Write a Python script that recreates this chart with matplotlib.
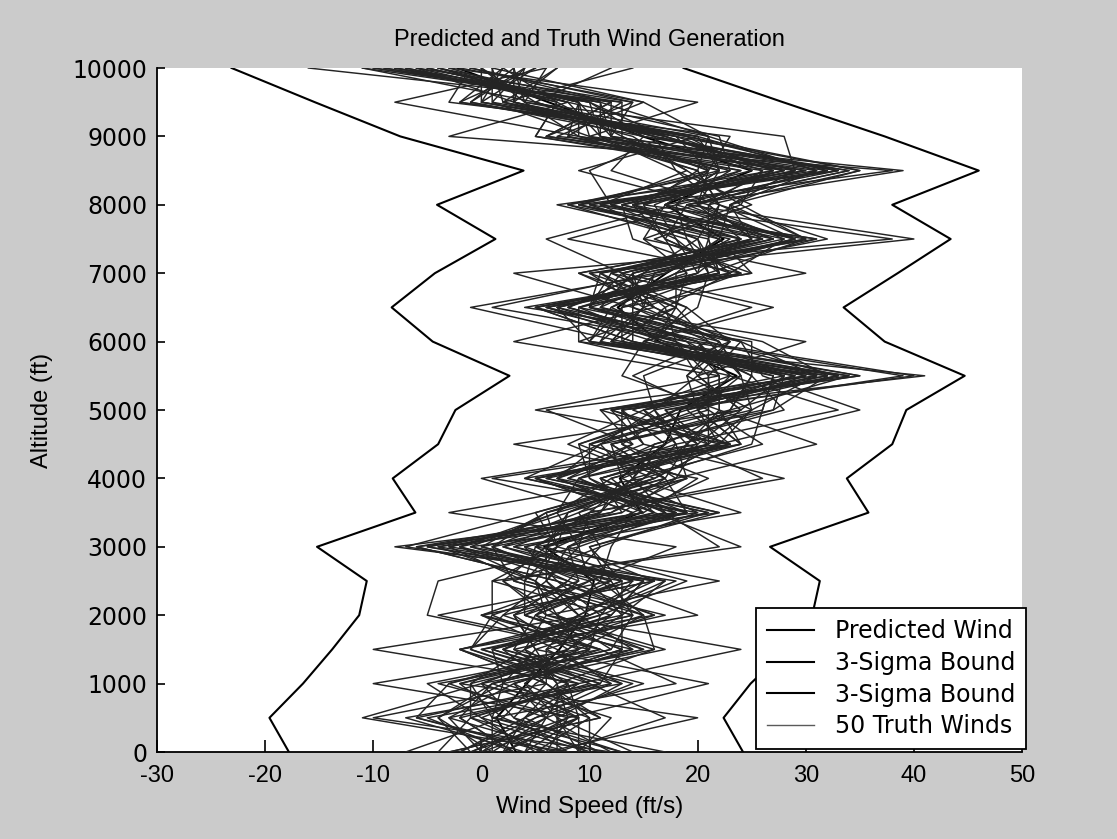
#!/usr/bin/env python3
"""Predicted wind profile, 3-sigma envelope and 50 sampled truth winds."""

import matplotlib
matplotlib.use("Agg")
import matplotlib.pyplot as plt
from matplotlib.lines import Line2D

# altitude grid (ft), one sample every 500 ft
altitude = list(range(0, 10001, 500))

predicted_wind = [3.2, 1.4, 4.2, 7.2, 9.6, 10.4, 5.8, 14.8, 12.8, 17.0, 18.4,
                  23.6, 16.4, 12.6, 17.1, 22.4, 17.0, 25.0, 14.9, 6.2, -2.2]
lower_bound = [-17.8, -19.6, -16.5, -13.8, -11.3, -10.6, -15.2, -6.1, -8.2, -4.0, -2.4,
               2.6, -4.5, -8.3, -4.3, 1.3, -4.1, 3.9, -7.5, -15.4, -23.1]
upper_bound = [24.2, 22.4, 24.9, 28.2, 30.6, 31.3, 26.7, 35.8, 33.8, 38.0, 39.3,
               44.7, 37.3, 33.5, 38.5, 43.4, 38.0, 46.0, 37.3, 27.9, 18.7]

truth_winds = [
    [6, -1, 10, 4, 9, 15, 2, 16, 7, 17, 23, 25, 19, 6, 20, 24, 14, 30, 11, 8, -6],
    [-1, 6, 3, 13, 4, 10, 9, 10, 14, 11, 20, 30, 12, 15, 16, 29, 18, 21, 18, 3, 3],
    [12, -10, 6, -2, 11, 7, -6, 19, 11, 21, 12, 35, 17, 9, 24, 8, 20, 27, 6, 12, -1],
    [4, 9, -10, 9, 15, 4, 7, 5, 17, 19, 16, 20, 23, 16, 13, 26, 9, 33, 16, 5, -11],
    [1, 1, 18, 11, -4, 12, 0, 15, 20, 3, 24, 28, 14, 5, 22, 21, 22, 20, 21, 15, 1],
    [9, 12, 2, 1, 10, 17, -8, 18, 5, 23, 19, 33, 21, 14, 3, 38, 15, 28, 9, -8, 6],
    [-2, 4, 9, 24, 6, 2, 6, 8, 15, 18, 33, 23, 9, 18, 19, 17, 19, 34, 15, 10, -8],
    [7, -6, -3, 8, 13, 13, 10, 22, 8, 14, 6, 31, 24, 10, 11, 27, 12, 10, 17, 2, 14],
    [14, 7, 7, 5, 3, 8, -2, 13, 18, 31, 22, 13, 15, 20, 21, 30, 24, 26, 5, 7, -4],
    [3, -2, 11, 0, 20, 11, 5, 11, 0, 20, 17, 40, 20, 8, 15, 20, 10, 31, 20, -2, 2],
    [5, 10, 1, 15, 7, 5, -4, 20, 13, 12, 26, 27, 11, 13, 30, 15, 17, 22, 12, 11, -9],
    [10, 2, 5, 10, 11, 19, 7, 6, 16, 22, 11, 32, 26, 11, 14, 25, 21, 35, 18, 0, 5],
    [0, 5, 15, 3, 5, 9, 1, 17, 10, 10, 21, 21, 18, 17, 23, 28, 13, 24, 8, 9, -5],
    [6, 20, -2, 12, 14, 3, 11, 9, 19, 18, 15, 29, 13, -1, 17, 22, 23, 29, 28, 4, 0],
    [11, 0, 8, -1, 2, 14, 3, 21, 6, 21, 25, 24, 22, 15, 10, 31, 11, 19, 13, 13, -16],
    [2, 8, -4, 14, 9, 6, 8, 14, 21, 13, 13, 34, 10, 7, 21, 19, 18, 32, 19, 1, 4],
    [8, -3, 12, 7, 0, 16, -1, 7, 12, 24, 20, 19, 23, 19, 12, 24, 8, 23, 10, 20, -3],
    [-3, 11, 6, 2, 12, 1, 24, 16, 9, 16, 27, 28, 16, 6, 25, 16, 25, 18, 16, 3, 7],
    [13, 3, 0, 16, 5, 13, -5, 12, 17, 9, 18, 39, 19, 12, 18, 29, 14, 38, -3, 8, -8],
    [3, -5, 13, 6, 16, 7, 4, 19, 4, 23, 5, 22, 3, 16, 9, 26, 20, 21, 23, -3, -1],
    [7, 7, 4, 9, 1, 10, 18, -3, 15, 19, 23, 25, 25, 4, 23, 14, 13, 28, 11, 10, -7],
    [-4, -1, 9, -10, 10, 18, -3, 15, 7, 11, 16, 32, 14, 14, 16, 32, 22, 12, 15, 5, 12],
    [9, 9, 3, 13, 4, 4, 5, 24, 14, 26, 21, 14, 21, 7, 20, 21, 7, 30, 6, 14, -6],
    [4, -7, 11, 1, 14, 12, 2, 10, 28, 15, 12, 30, 15, 27, 13, 27, 17, 22, 20, 2, 1],
    [1, 6, -3, 10, -5, -4, 9, 18, 11, 22, 35, 26, 24, 9, 22, 18, 11, 33, 12, 12, -10],
    [11, 4, 7, 4, 12, 15, -7, 5, 16, 8, 15, 33, 12, 18, 11, 25, 21, 26, 17, -1, 3],
    [-1, -4, 2, 17, 6, 5, 7, 14, 5, 20, 24, 20, 18, 5, 24, 17, 15, 20, 9, 9, -4],
    [6, 8, 21, 5, 15, 11, -2, 8, 18, 13, 18, 29, 10, 13, 15, 30, 23, 31, 21, 4, 6],
    [17, 1, -1, 12, 7, 2, 22, 17, 9, 24, 22, 22, 20, 8, 17, 23, 9, 21, 13, 7, -7],
    [2, 9, 8, -2, 13, 17, 3, 11, 14, 17, 13, 35, 16, 19, 10, 40, 19, 39, 7, 15, -2],
    [8, -11, 0, 8, 3, 8, 11, 20, 1, 22, 20, 24, 22, 10, 21, 20, 12, 25, 19, 0, 2],
    [-2, 5, 12, 1, 11, 14, 0, 6, 17, 12, 25, 31, 11, 15, 14, 29, 22, 18, 11, 11, -11],
    [5, 0, -5, 11, 2, 6, 6, 16, 12, 23, 14, 23, 20, 6, 25, 22, 14, 29, 16, 3, 4],
    [10, 10, 6, 6, 9, 16, -4, 12, 19, 10, 23, 34, 13, 17, 13, 6, 18, 23, 22, 8, -3],
    [0, -3, 3, 14, 0, 9, 8, 19, 8, 18, 16, 15, 23, 11, 18, 31, 10, 32, 10, 1, 1],
    [7, 17, 10, 0, 14, 3, 1, 9, 15, 25, 26, 27, 15, 25, 12, 24, 20, 22, 8, 13, -8],
    [-7, 2, -2, 10, 5, 12, 10, 21, 6, 14, 11, 30, 17, 7, 23, 19, 8, 27, 18, -2, 5],
    [12, 6, 8, 3, 17, 4, -3, 11, 13, 21, 21, 21, 24, 14, 14, 27, 19, 34, 12, 9, -5],
    [3, -2, 1, 15, 4, 13, 4, 18, 4, 11, 27, 32, 9, 9, 19, 15, 24, 19, 14, 2, 7],
    [9, 7, 13, 2, 10, 6, 9, 7, 18, 20, 15, 24, 21, 18, 9, 26, 13, 29, 6, 12, -4],
    [-3, 11, 4, 8, 12, 15, -5, 15, 10, 9, 19, 29, 14, 5, 22, 21, 21, 9, 20, 0, 0],
    [6, -6, 9, -1, 1, 1, 7, 8, 16, 22, 25, 19, 22, 16, 11, 30, 11, 28, 17, 10, -9],
    [2, 4, 11, 13, 13, 10, -1, 22, 7, 15, 13, 41, 10, 12, 20, 18, 16, 24, 5, 7, 2],
    [10, -1, -1, 4, 6, 22, 5, 10, 26, 19, 22, 22, 19, 1, 16, 25, 23, 35, 19, 3, -6],
    [-1, 8, 7, 16, 15, 7, -6, 13, 11, 23, 12, 28, 12, 15, 24, 17, 14, 21, 12, 14, -1],
    [13, 1, 2, 5, 3, 14, 6, 19, 17, 12, 24, 20, 30, 10, 13, 28, 20, 31, 9, 4, 3],
    [4, 6, 14, 2, 9, 5, -2, 7, 9, 21, 17, 33, 16, 18, 18, 22, 9, 22, 21, 11, -10],
    [1, -4, 1, 11, 0, 16, 8, 17, 14, 16, 28, 25, 18, 8, 15, 29, 17, 33, 15, -1, 4],
    [8, 3, 6, -2, 16, 8, 1, 6, 19, 10, 18, 31, 13, 13, 22, 20, 22, 20, 10, 9, -5],
    [0, 9, 0, 9, 7, 11, 12, 14, 5, 24, 20, 23, 20, 10, 12, 24, 12, 27, 17, 5, 0],
]

x_ticks = list(range(-30, 51, 10))
y_ticks = list(range(0, 10001, 1000))
legend_labels = ["Predicted Wind", "3-Sigma Bound", "3-Sigma Bound", "50 Truth Winds"]

BG = "#cbcbcb"
SANS = ["Liberation Sans", "DejaVu Sans"]

plt.rcParams["axes.unicode_minus"] = False

fig = plt.figure(figsize=(11.17, 8.39), dpi=100, facecolor=BG)
ax = fig.add_axes([157 / 1117, 1 - 752 / 839, 865 / 1117, 684 / 839])

ax.plot(predicted_wind, altitude, color="black", linewidth=1.5, zorder=2)
ax.plot(lower_bound, altitude, color="black", linewidth=1.5, zorder=2)
ax.plot(upper_bound, altitude, color="black", linewidth=1.5, zorder=2)
for run in truth_winds:
    ax.plot(run, altitude, color="#242424", linewidth=1.05, zorder=3)

ax.set_xlim(-30, 50)
ax.set_ylim(0, 10000)
ax.set_xticks(x_ticks)
ax.set_yticks(y_ticks)

for side in ("top", "right"):
    ax.spines[side].set_visible(False)
for side in ("left", "bottom"):
    ax.spines[side].set_color("black")
    ax.spines[side].set_linewidth(1.3)

ax.tick_params(axis="y", direction="in", length=6, width=1.2, pad=7,
               labelsize=17, colors="black")
ax.tick_params(axis="x", direction="in", length=9, width=1.2, pad=9,
               labelsize=17)
for lab in ax.get_xticklabels():
    lab.set_family(SANS)
for lab in ax.get_yticklabels():
    lab.set_family("DejaVu Sans")

ax.set_title("Predicted and Truth Wind Generation", family=SANS,
             fontsize=17, pad=16)
ax.set_xlabel("Wind Speed (ft/s)", family=SANS, fontsize=17.5, labelpad=7)
ax.set_ylabel("Altitude (ft)", family=SANS, fontsize=17, labelpad=14)

handles = [
    Line2D([0], [0], color="black", linewidth=1.5),
    Line2D([0], [0], color="black", linewidth=1.5),
    Line2D([0], [0], color="black", linewidth=1.5),
    Line2D([0], [0], color="#5a5a5a", linewidth=1.0),
]
leg = fig.legend(handles, legend_labels, loc="lower right",
                 bbox_to_anchor=(1026 / 1117, 1 - 749 / 839),
                 bbox_transform=fig.transFigure, borderaxespad=0,
                 fancybox=False, framealpha=1, edgecolor="black",
                 handlelength=2.0, handletextpad=0.9, labelspacing=0.33,
                 borderpad=0.45, prop={"family": "DejaVu Sans", "size": 17})
leg.get_frame().set_linewidth(1.3)

fig.savefig("out.png", dpi=100, facecolor=BG)
